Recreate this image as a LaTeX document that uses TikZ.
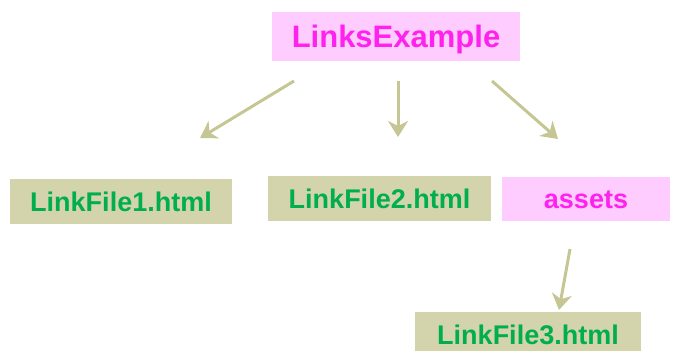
\documentclass[tikz,border=0pt]{standalone}
\usepackage{fontspec}
\setmainfont{Liberation Sans}
\usetikzlibrary{arrows.meta}

\definecolor{folderfill}{HTML}{FFCCFF}
\definecolor{foldertext}{HTML}{FF22EE}
\definecolor{filefill}{HTML}{D4D4AC}
\definecolor{filetext}{HTML}{00AE4E}
\definecolor{linkcol}{HTML}{C6C694}

\tikzset{
  box/.style={rectangle, inner sep=0pt, text depth=0pt},
  bigtext/.style={font=\bfseries\fontsize{31}{34}\selectfont, text height=22.2pt},
  smalltext/.style={font=\bfseries\fontsize{27}{30}\selectfont, text height=19.3pt},
  folderbox/.style={box, fill=folderfill, text=foldertext},
  filebox/.style={box, smalltext, fill=filefill, text=filetext},
  link/.style={draw=linkcol, line width=3pt,
    -{Stealth[length=16pt,width=20pt,inset=5pt]}}
}

\begin{document}
\begin{tikzpicture}[x=1pt,y=-1pt]
  \useasboundingbox (0,0) rectangle (673,351);

  % folder and file boxes
  \node[folderbox, bigtext, minimum width=248pt, minimum height=49pt] (root) at (396,36.5) {LinksExample};
  \node[filebox, minimum width=222pt, minimum height=45pt] (f1) at (121,201.5) {LinkFile1.html};
  \node[filebox, minimum width=223pt, minimum height=45pt] (f2) at (379.5,198.5) {LinkFile2.html};
  \node[folderbox, smalltext, minimum width=168pt, minimum height=44pt] (assets) at (586,199) {assets};
  \node[filebox, minimum width=226pt, minimum height=45pt] (f3) at (528,334.5) {LinkFile3.html};

  % arrow end points
  \coordinate (r1) at (294,81);
  \coordinate (e1) at (200,138);
  \coordinate (r2) at (398,81);
  \coordinate (e2) at (398,137);
  \coordinate (r3) at (492,81);
  \coordinate (e3) at (558,139);
  \coordinate (a1) at (570,249);
  \coordinate (e4) at (559,310);

  % links
  \draw[link] (r1) -- (e1);
  \draw[link] (r2) -- (e2);
  \draw[link] (r3) -- (e3);
  \draw[link] (a1) -- (e4);
\end{tikzpicture}
\end{document}
